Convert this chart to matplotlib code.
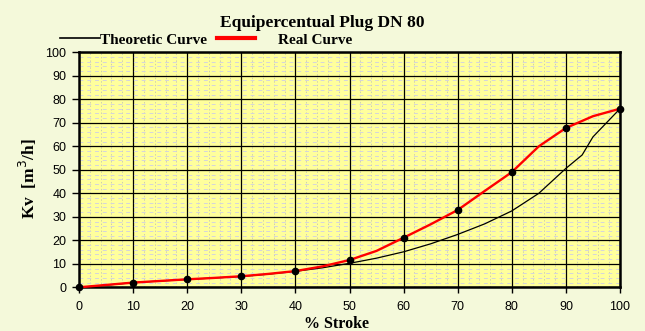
import matplotlib
matplotlib.use("Agg")
import matplotlib.pyplot as plt
from matplotlib.lines import Line2D
import numpy as np

# ---- data ----
stroke_theo = [0, 5, 10, 15, 20, 25, 30, 35, 40, 45, 50, 55, 60, 65, 70, 75, 80, 85, 90, 93, 95, 100]
kv_theo = [0, 0.9, 2.0, 2.7, 3.3, 4.0, 4.6, 5.6, 6.8, 8.3, 10.2, 12.4, 15.1, 18.5, 22.5, 27.0, 32.5, 40.0, 50.6, 56.3, 64.0, 76.0]

stroke_real = [0, 5, 10, 15, 20, 25, 30, 35, 40, 45, 50, 55, 60, 65, 70, 75, 80, 85, 90, 95, 100]
kv_real = [0, 1.0, 2.0, 2.7, 3.4, 4.0, 4.7, 5.7, 6.9, 8.9, 11.6, 15.5, 21.1, 26.8, 32.9, 41.0, 49.0, 60.0, 67.8, 72.8, 76.0]

x_ticks = [0, 10, 20, 30, 40, 50, 60, 70, 80, 90, 100]
y_ticks = [0, 10, 20, 30, 40, 50, 60, 70, 80, 90, 100]

title = "Equipercentual Plug DN 80"
xlabel = "% Stroke"
ylabel = "Kv  [m$^3$/h]"
legend_labels = ["Theoretic Curve", "Real Curve"]

BG = "#F4F9DA"
PLOT_BG = "#FFFF9C"
serif = "Liberation Serif"
sans = "Liberation Sans"

fig = plt.figure(figsize=(6.45, 3.31), dpi=100, facecolor=BG)
W, H = 645, 331
ax = fig.add_axes([79 / W, 1 - 287.3 / H, (620 - 79) / W, (287.3 - 52.3) / H])
ax.set_facecolor(PLOT_BG)

ax.set_xlim(0, 100)
ax.set_ylim(0, 100)
ax.set_xticks(x_ticks)
ax.set_yticks(y_ticks)
ax.set_xticks(np.arange(0, 101, 2), minor=True)
ax.set_yticks(np.arange(0, 101, 2), minor=True)

# texture-like minor grid
ax.grid(True, which="minor", axis="x", color="#B8B8BC", lw=0.5, dashes=(2, 3), zorder=0)
ax.grid(True, which="minor", axis="y", color="#D4D4DC", lw=0.7, dashes=(4, 4), zorder=0)
ax.grid(True, which="major", color="black", lw=0.9, zorder=1)
ax.set_axisbelow(True)

for s in ax.spines.values():
    s.set_linewidth(1.8)
    s.set_color("black")

ax.tick_params(which="minor", length=0)
ax.tick_params(axis="y", which="major", direction="out", length=5, width=1, pad=4,
               labelsize=9)
ax.tick_params(axis="x", which="major", direction="out", length=4, width=1, pad=6,
               labelsize=9)
for lab in ax.get_xticklabels() + ax.get_yticklabels():
    lab.set_fontfamily(sans)

ax.plot(stroke_theo, kv_theo, color="black", lw=0.9, zorder=3, clip_on=False)
ax.plot(stroke_real, kv_real, color="#FF0000", lw=1.7, zorder=4, clip_on=False,
        marker="o", markevery=2, markersize=4.5, markerfacecolor="black",
        markeredgecolor="black")

fig.text(322 / W, 1 - 23 / H, title, ha="center", va="center",
         fontsize=12.5, fontweight="bold", fontfamily=serif)
fig.text(336 / W, 1 - 324 / H, xlabel, ha="center", va="center",
         fontsize=11.5, fontweight="bold", fontfamily=serif)
fig.text(28 / W, 1 - 179 / H, ylabel, ha="center", va="center", rotation=90,
         fontsize=12.5, fontweight="bold", fontfamily=serif)

# legend (drawn manually in figure coordinates)
ly = 1 - 37.7 / H
fig.add_artist(Line2D([60 / W, 100 / W], [ly, ly], color="black", lw=1.2,
                      transform=fig.transFigure))
fig.add_artist(Line2D([217 / W, 255 / W], [ly, ly], color="#FF0000", lw=3,
                      transform=fig.transFigure))
fig.text(100 / W, 1 - 40 / H, legend_labels[0], ha="left", va="center",
         fontsize=11, fontweight="bold", fontfamily=serif)
fig.text(278 / W, 1 - 40 / H, legend_labels[1], ha="left", va="center",
         fontsize=11, fontweight="bold", fontfamily=serif)

fig.savefig("out.png", dpi=100, facecolor=BG)
